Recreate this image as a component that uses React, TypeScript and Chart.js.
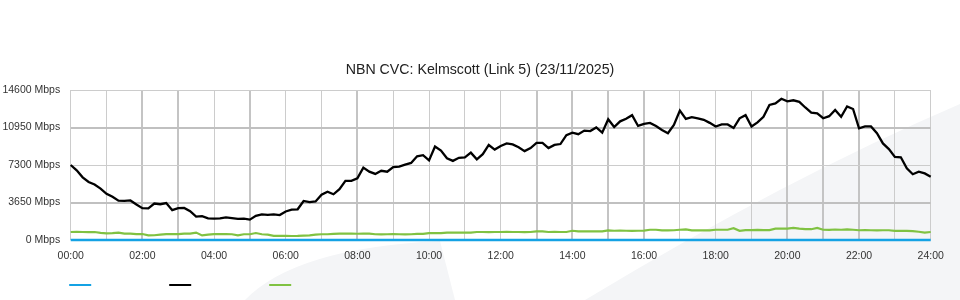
import React, { useEffect, useRef } from 'react';
import { Chart, registerables } from 'chart.js';

Chart.register(...registerables);

const chartTitle = 'NBN CVC: Kelmscott (Link 5) (23/11/2025)';
const yTicks = [0, 3650, 7300, 10950, 14600];
const xTickLabels = ['00:00', '02:00', '04:00', '06:00', '08:00', '10:00', '12:00', '14:00', '16:00', '18:00', '20:00', '22:00', '24:00'];
const hourTicks = [0, 1, 2, 3, 4, 5, 6, 7, 8, 9, 10, 11, 12, 13, 14, 15, 16, 17, 18, 19, 20, 21, 22, 23, 24];
const sampleStepMinutes = 10;

const seriesNames = ['Upload', 'Download', 'Capacity'];
const seriesColors = ['#14a2e4', '#000000', '#80c242'];

// blue series (flat at zero)
const blueValues = [
  0, 0, 0, 0, 0, 0, 0, 0, 0, 0,
  0, 0, 0, 0, 0, 0, 0, 0, 0, 0,
  0, 0, 0, 0, 0, 0, 0, 0, 0, 0,
  0, 0, 0, 0, 0, 0, 0, 0, 0, 0,
  0, 0, 0, 0, 0, 0, 0, 0, 0, 0,
  0, 0, 0, 0, 0, 0, 0, 0, 0, 0,
  0, 0, 0, 0, 0, 0, 0, 0, 0, 0,
  0, 0, 0, 0, 0, 0, 0, 0, 0, 0,
  0, 0, 0, 0, 0, 0, 0, 0, 0, 0,
  0, 0, 0, 0, 0, 0, 0, 0, 0, 0,
  0, 0, 0, 0, 0, 0, 0, 0, 0, 0,
  0, 0, 0, 0, 0, 0, 0, 0, 0, 0,
  0, 0, 0, 0, 0, 0, 0, 0, 0, 0,
  0, 0, 0, 0, 0, 0, 0, 0, 0, 0,
  0, 0, 0, 0, 0,
];

// black series (Mbps), one value every 10 minutes
const blackValues = [
  7300, 6780, 6100, 5650, 5400, 5000, 4500, 4200, 3830, 3800,
  3850, 3450, 3100, 3080, 3550, 3480, 3600, 2900, 3100, 3120,
  2800, 2270, 2330, 2110, 2080, 2100, 2200, 2130, 2050, 2080,
  1980, 2350, 2500, 2450, 2490, 2430, 2780, 2950, 2990, 3800,
  3680, 3750, 4400, 4700, 4450, 4950, 5760, 5760, 6000, 7050,
  6650, 6430, 6740, 6650, 7100, 7140, 7330, 7500, 8150, 8250,
  7750, 9100, 8700, 7950, 7700, 8000, 8050, 8500, 7850, 8350,
  9250, 8800, 9150, 9400, 9300, 9020, 8650, 8950, 9450, 9450,
  8950, 9250, 9340, 10200, 10450, 10300, 10650, 10600, 10950, 10450,
  11750, 11000, 11550, 11800, 12150, 11100, 11300, 11400, 11100, 10700,
  10400, 11200, 12600, 11780, 11950, 11840, 11700, 11400, 11050, 11250,
  11250, 10900, 11840, 12150, 11050, 11450, 12000, 13150, 13300, 13750,
  13500, 13600, 13450, 12900, 12400, 12330, 11850, 12050, 12650, 12000,
  13000, 12750, 10870, 11050, 11050, 10400, 9400, 8850, 8080, 8050,
  6980, 6400, 6650, 6480, 6160,
];

// green series (Mbps), one value every 10 minutes
const greenValues = [
  780, 790, 780, 770, 780, 700, 650, 660, 720, 620,
  620, 580, 580, 450, 460, 520, 580, 570, 580, 620,
  620, 720, 450, 520, 570, 580, 570, 560, 450, 560,
  560, 680, 560, 520, 400, 410, 400, 390, 400, 430,
  450, 520, 560, 560, 600, 620, 630, 620, 610, 620,
  620, 560, 550, 560, 570, 560, 550, 560, 600, 600,
  660, 670, 660, 720, 710, 720, 730, 720, 780, 780,
  770, 780, 780, 790, 780, 780, 770, 780, 830, 840,
  780, 790, 780, 780, 900, 840, 850, 840, 830, 840,
  930, 900, 910, 900, 890, 900, 910, 1000, 1000, 940,
  940, 950, 1000, 1040, 940, 950, 940, 940, 1000, 1000,
  1000, 1150, 900, 970, 970, 980, 970, 970, 1100, 1100,
  1100, 1170, 1100, 1050, 1050, 1170, 1000, 980, 1020, 1000,
  1030, 1000, 950, 960, 950, 940, 950, 950, 880, 880,
  880, 870, 800, 720, 780,
];

const FONT = "'Liberation Sans', Arial, Helvetica, sans-serif";
const thickHourLines = [2, 3, 5, 8, 13, 14, 15, 16, 20, 21, 22];
const thickValueLines = [3650, 10950];

const toPoints = (vals: number[]) => vals.map((v, i) => ({ x: i * sampleStepMinutes, y: v }));

const watermarkPlugin = {
  id: 'watermark',
  beforeDraw(chart: any) {
    const { ctx, width, height } = chart;
    ctx.save();
    ctx.fillStyle = '#f4f5f7';
    ctx.beginPath();
    ctx.moveTo(585, height);
    ctx.quadraticCurveTo(787, 178, width, 104);
    ctx.lineTo(width, height);
    ctx.closePath();
    ctx.fill();
    ctx.beginPath();
    ctx.moveTo(245, height);
    ctx.quadraticCurveTo(295, 248, 440, 241);
    ctx.lineTo(455, height);
    ctx.closePath();
    ctx.fill();
    ctx.restore();
  },
};

const legendLinesPlugin = {
  id: 'legendLines',
  afterDraw(chart: any) {
    const { ctx, chartArea } = chart;
    ctx.save();
    chart.data.datasets.forEach((ds: any, i: number) => {
      const x0 = chartArea.left - 1.5 + i * 100;
      ctx.strokeStyle = ds.borderColor;
      ctx.lineWidth = 2;
      ctx.beginPath();
      ctx.moveTo(x0, 285);
      ctx.lineTo(x0 + 22, 285);
      ctx.stroke();
    });
    ctx.restore();
  },
};

export default function App() {
  const ref = useRef<HTMLCanvasElement | null>(null);

  useEffect(() => {
    if (!ref.current) return;
    const chart = new Chart(ref.current, {
      type: 'line',
      data: {
        datasets: [
          { label: seriesNames[0], data: toPoints(blueValues), borderColor: seriesColors[0], borderWidth: 2.4, pointRadius: 0, tension: 0, clip: false },
          { label: seriesNames[1], data: toPoints(blackValues), borderColor: seriesColors[1], borderWidth: 2.3, pointRadius: 0, tension: 0, clip: false },
          { label: seriesNames[2], data: toPoints(greenValues), borderColor: seriesColors[2], borderWidth: 2.2, pointRadius: 0, tension: 0, clip: false },
        ],
      },
      options: {
        responsive: false,
        animation: false,
        devicePixelRatio: 1,
        layout: { padding: 0 },
        plugins: {
          legend: { display: false },
          tooltip: { enabled: false },
          title: {
            display: true,
            text: chartTitle,
            color: '#222',
            font: { family: FONT, size: 14.2, weight: 'normal', lineHeight: 1.2 },
            padding: { top: 62, bottom: 10.96 },
          },
        },
        scales: {
          x: {
            type: 'linear',
            min: 0,
            max: 1440,
            afterBuildTicks: (s: any) => {
              s.ticks = hourTicks.map((h) => ({ value: h * 60 }));
            },
            afterFit: (s: any) => {
              s.height = 60;
            },
            ticks: {
              autoSkip: false,
              maxRotation: 0,
              padding: 10,
              color: '#333',
              font: { family: FONT, size: 10.5 },
              callback: (v: any) => {
                const h = Number(v) / 60;
                return h % 2 === 0 ? xTickLabels[h / 2] : '';
              },
            },
            grid: {
              drawTicks: false,
              color: (c: any) => (thickHourLines.includes(c.tick?.value / 60) ? '#c4c4c4' : '#cccccc'),
              lineWidth: (c: any) => (thickHourLines.includes(c.tick?.value / 60) ? 2 : 1),
            },
            border: { display: false },
          },
          y: {
            min: 0,
            max: 14600,
            afterBuildTicks: (s: any) => {
              s.ticks = yTicks.map((v) => ({ value: v }));
            },
            afterFit: (s: any) => {
              s.width = 70.7;
            },
            ticks: {
              padding: 10.5,
              color: '#333',
              font: { family: FONT, size: 10.5 },
              callback: (v: any) => `${v} Mbps`,
            },
            grid: {
              drawTicks: false,
              color: (c: any) => (thickValueLines.includes(c.tick?.value) ? '#c0c0c0' : '#cccccc'),
              lineWidth: (c: any) => (thickValueLines.includes(c.tick?.value) ? 2 : 1),
            },
            border: { display: false },
          },
          spacerRight: {
            type: 'linear',
            position: 'right',
            display: true,
            min: 0,
            max: 1,
            afterFit: (s: any) => {
              s.width = 29.3;
            },
            ticks: { display: false },
            grid: { display: false, drawTicks: false },
            border: { display: false },
          },
        },
      } as any,
      plugins: [watermarkPlugin, legendLinesPlugin],
    });
    return () => chart.destroy();
  }, []);

  return (
    <div style={{ position: 'absolute', left: 0, top: 0, width: 960, height: 300 }}>
      <canvas ref={ref} width={960} height={300} />
    </div>
  );
}
